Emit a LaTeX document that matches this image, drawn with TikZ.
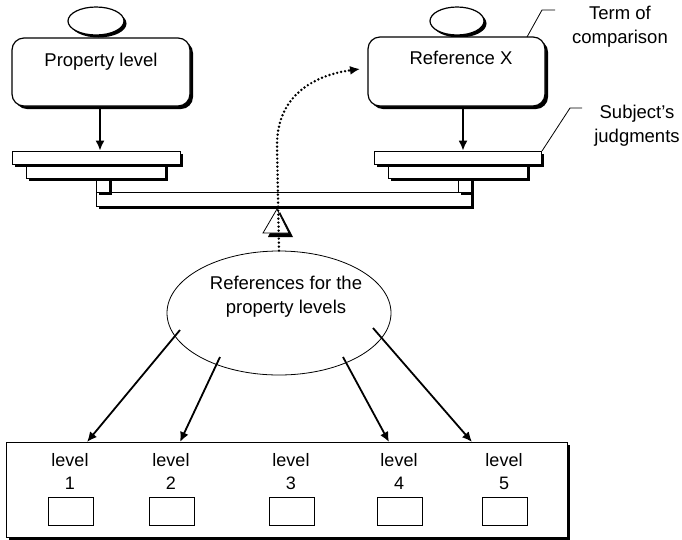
\documentclass[tikz,border=0pt]{standalone}
\usepackage{fontspec}
\setmainfont{Liberation Sans}
\usetikzlibrary{shadows,arrows.meta,shapes.geometric}
\begin{document}
\begin{tikzpicture}[x=1pt,y=-1pt,
  shd/.style={general shadow={shadow xshift=3pt,shadow yshift=-3pt,fill=black}},
  rbox/.style={draw,line width=1.2pt,rounded corners=12pt,fill=white,shd,inner sep=0pt},
  smallell/.style={draw,line width=1.2pt,ellipse,fill=white,inner sep=0pt,
     general shadow={shadow xshift=2.5pt,shadow yshift=-2.5pt,fill=black}},
  plate/.style={draw,line width=0.8pt,fill=white,shd,inner sep=0pt},
  lvbox/.style={draw,line width=0.8pt,fill=white,inner sep=0pt,minimum width=45pt,minimum height=28pt},
  arr/.style={line width=1.8pt,-{Latex[length=10pt,width=9pt]}},
  callout/.style={line width=0.8pt},
  lbl/.style={font=\fontsize{18.5}{24}\selectfont,inner sep=0pt,align=center},
  small/.style={font=\fontsize{18}{23}\selectfont,inner sep=0pt,align=center},
  dots/.style={line width=2.7pt,line cap=round,dash pattern=on 0pt off 4pt}
]
\useasboundingbox (0,0) rectangle (682,539);

% top ellipses and boxes
\node[smallell,minimum width=56pt,minimum height=28pt] (le) at (96,21) {};
\node[smallell,minimum width=54pt,minimum height=28pt] (re) at (457,21) {};
\node[rbox,minimum width=178pt,minimum height=68pt] (pl) at (101,72) {};
\node[rbox,minimum width=177pt,minimum height=69pt] (rx) at (456.5,71.5) {};
\node[lbl] (plt) at (101,62) {Property level};
\node[lbl] (rxt) at (461,58) {Reference X};

% beam and plates
\node[plate,minimum width=375pt,minimum height=14pt] (beam) at (283.5,199) {};
\node[plate,minimum width=13pt,minimum height=14pt] (lpost) at (102.5,185) {};
\node[plate,minimum width=13pt,minimum height=14pt] (rpost) at (464.5,185) {};
\node[plate,minimum width=139pt,minimum height=14pt] (lp2) at (95.5,171) {};
\node[plate,minimum width=139pt,minimum height=14pt] (rp2) at (457.5,171) {};
\node[plate,minimum width=168pt,minimum height=13pt] (lp1) at (96,157.5) {};
\node[plate,minimum width=167pt,minimum height=13pt] (rp1) at (457.5,157.5) {};

% fulcrum
\coordinate (apex) at (277,209);
\fill[black] (280,212) -- (293,237) -- (268,237) -- cycle;
\filldraw[fill=white,draw=black,line width=0.8pt] (apex) -- (289,233) -- (263,233) -- cycle;

% arrows from boxes to plates
\draw[arr] ([xshift=-1pt]pl.south) -- ([xshift=-1pt]pl.south |- lp1.north);
\draw[arr] ([xshift=6.5pt]rx.south) -- ([xshift=6.5pt]rx.south |- rp1.north);

% callouts
\coordinate (tc1) at (527,37);
\coordinate (sj1) at (542,151);
\node[lbl] (tc) at (620,27) {Term of\\comparison};
\node[lbl] (sj) at (637,126) {Subject's\\judgments};
\draw[callout] (tc1) -- (542,10) -- (555,10);
\draw[callout] (sj1) -- (570,108) -- (582,108);

% big ellipse
\node[draw,ellipse,line width=0.8pt,minimum width=224pt,minimum height=124pt,inner sep=0pt] (refs) at (279,313) {};
\node[lbl] (refst) at (286,297) {References for the\\property levels};

% bottom box
\node[draw,line width=0.8pt,fill=white,shd,minimum width=561pt,minimum height=95pt,inner sep=0pt] (bot) at (286.5,489.5) {};
\foreach \i/\x in {1/71,2/172,3/292,4/400,5/505}{
  \node[lvbox] (b\i) at (\x,511) {};
  \node[small] (t\i) at (\x-1,471.5) {level\\\i};
}

% arrows from ellipse to levels
\coordinate (s1) at (180,330); \coordinate (e1) at (87,442);
\coordinate (s2) at (220,357); \coordinate (e2) at (180,442);
\coordinate (s4) at (343,357); \coordinate (e4) at (389,442);
\coordinate (s5) at (373,328); \coordinate (e5) at (472,442);
\draw[arr] (s1) -- (e1);
\draw[arr] (s2) -- (e2);
\draw[arr] (s4) -- (e4);
\draw[arr] (s5) -- (e5);

% dotted curve
\coordinate (xtip) at (360,69);
\draw[dots,-{Latex[length=10pt,width=9pt]}] (refs.north) -- (277,145) .. controls (277,95) and (315,75) .. (xtip);
\end{tikzpicture}
\end{document}
